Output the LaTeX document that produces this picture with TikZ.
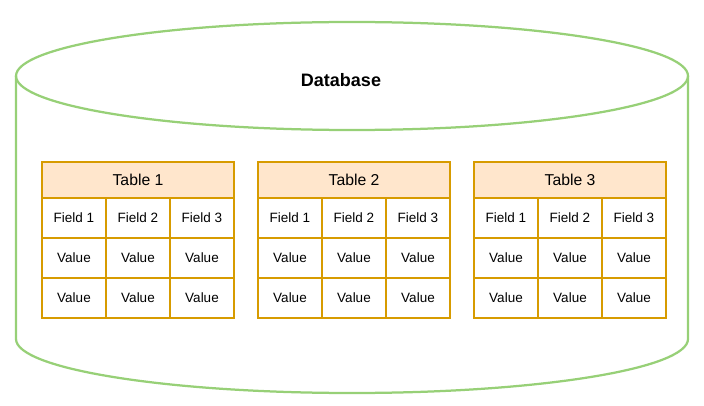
\documentclass[tikz,border=0pt]{standalone}
\usepackage{fontspec}
\setmainfont{Liberation Sans}
\usetikzlibrary{positioning}
\definecolor{dbgreen}{HTML}{97D077}
\definecolor{taborange}{HTML}{D79B00}
\definecolor{tabfill}{HTML}{FFE6CC}

\begin{document}
\begin{tikzpicture}[
    x=1pt, y=-1pt,
    dbline/.style={draw=dbgreen, line width=2.25pt},
    head/.style={rectangle, draw=taborange, fill=tabfill, line width=1.1pt, anchor=north west,
        minimum width=192pt, minimum height=36pt, inner sep=0pt, outer sep=0pt,
        font=\fontsize{15.75}{18}\selectfont},
    cell/.style={rectangle, draw=taborange, fill=white, line width=1.1pt,
        minimum width=64pt, minimum height=40pt, inner sep=0pt, outer sep=0pt,
        font=\fontsize{13.5}{16}\selectfont}
]
\useasboundingbox (0,0) rectangle (704,406);

% Cylinder
\draw[dbline] (16,76) -- (16,339) arc[start angle=180, end angle=0, x radius=336, y radius=54] -- (688,76);
\draw[dbline] (352,76) ellipse[x radius=336, y radius=54];
\node[font=\fontsize{18}{21}\selectfont\bfseries] (db) at (341,80) {Database};

% Tables
\foreach \t/\x in {1/42, 2/258, 3/474}{
  \node[head] (hd\t) at (\x,162) {Table \t};
  \node[cell, below right=0pt and 0pt of hd\t.south west] (f\t-1) {Field 1};
  \node[cell, right=0pt of f\t-1] (f\t-2) {Field 2};
  \node[cell, right=0pt of f\t-2] (f\t-3) {Field 3};
  \foreach \c in {1,2,3}{
    \node[cell, below=0pt of f\t-\c] (a\t-\c) {Value};
    \node[cell, below=0pt of a\t-\c] (b\t-\c) {Value};
  }
}

\end{tikzpicture}
\end{document}
